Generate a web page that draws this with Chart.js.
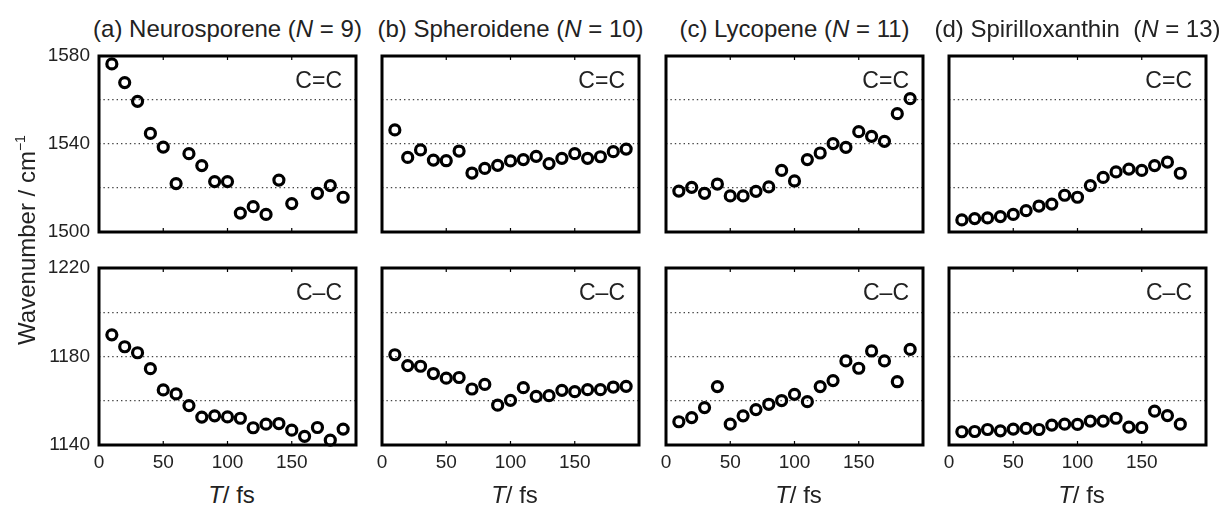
<!DOCTYPE html>
<html>
  <head>
    <title>Wavenumber vs T for four carotenoids</title>
    <script src="https://cdn.jsdelivr.net/npm/chart.js"></script>
    <style>
      body {
        margin: 0;
        background: #fff;
        font-family: "Liberation Sans", Arial, sans-serif;
        color: #222;
      }
      #wrap {
        position: relative;
        width: 1231px;
        height: 507px;
        overflow: hidden;
      }
      canvas {
        position: absolute;
      }
      .lbl {
        position: absolute;
        white-space: pre;
        z-index: 2;
      }
      .lbl sup {
        font-size: 14px;
        vertical-align: baseline;
        position: relative;
        top: -10px;
      }
    </style>
  </head>
  <body>
    <div id="wrap"></div>
    <script>
      // T / fs, one sample every 10 fs
      const times = [10, 20, 30, 40, 50, 60, 70, 80, 90, 100, 110, 120, 130, 140, 150, 160, 170, 180, 190];

      const molecules = ["(a) Neurosporene", "(b) Spheroidene", "(c) Lycopene", "(d) Spirilloxanthin "];
      const chainN = [9, 10, 11, 13];
      const modes = ["C=C", "C\u2013C"];
      const yRanges = [[1500, 1580], [1140, 1220]];
      const xTicks = [0, 50, 100, 150];

      // C=C stretching
      const neurosporeneCC = [1576.4, 1567.9, 1559.4, 1544.8, 1538.6, 1522.0, 1535.6, 1530.2, 1522.9, 1522.9,
        1508.6, 1511.5, 1508.0, 1523.6, 1512.9, null, 1517.6, 1521.1, 1515.8];
      const spheroideneCC = [1546.4, 1533.9, 1537.3, 1532.7, 1532.4, 1536.8, 1526.8, 1528.9, 1530.3, 1532.3,
        1532.9, 1534.4, 1531.1, 1533.5, 1535.6, 1533.5, 1534.2, 1536.5, 1537.7];
      const lycopeneCC = [1518.6, 1520.3, 1517.6, 1521.8, 1516.4, 1516.4, 1518.5, 1520.5, 1528.0, 1523.2,
        1532.9, 1535.9, 1540.2, 1538.5, 1545.6, 1543.5, 1541.2, 1553.8, 1560.6];
      const spirilloxanthinCC = [1505.5, 1506.1, 1506.4, 1507.0, 1508.0, 1509.7, 1511.8, 1512.7, 1516.7, 1515.8,
        1521.1, 1524.8, 1527.3, 1528.6, 1528.0, 1530.2, 1531.8, 1526.7];

      // C-C stretching
      const neurosporeneC1 = [1189.8, 1184.4, 1181.7, 1174.5, 1164.9, 1163.1, 1157.8, 1152.6, 1153.2, 1152.7,
        1152.1, 1147.8, 1149.4, 1149.7, 1146.7, 1143.9, 1147.9, 1142.2, 1147.2];
      const spheroideneC1 = [1180.8, 1175.9, 1175.6, 1172.3, 1170.2, 1170.5, 1165.3, 1167.4, 1158.0, 1160.2,
        1165.9, 1162.0, 1162.3, 1164.7, 1164.1, 1165.0, 1165.0, 1166.2, 1166.5];
      const lycopeneC1 = [1150.5, 1152.4, 1156.9, 1166.4, 1149.4, 1153.2, 1156.0, 1158.4, 1160.1, 1162.9,
        1159.6, 1166.4, 1169.1, 1178.0, 1174.7, 1182.5, 1178.0, 1168.6, 1183.2];
      const spirilloxanthinC1 = [1146.0, 1146.1, 1147.0, 1146.4, 1147.2, 1147.5, 1147.0, 1149.0, 1149.4, 1149.3,
        1150.8, 1150.8, 1152.1, 1148.1, 1147.9, 1155.3, 1153.3, 1149.4];

      const series = [
        [neurosporeneCC, spheroideneCC, lycopeneCC, spirilloxanthinCC],
        [neurosporeneC1, spheroideneC1, lycopeneC1, spirilloxanthinC1],
      ];

      // panel frames (px)
      const colLeft = [99, 382, 666, 949];
      const panelW = 257;
      const rowTop = [56, 268];
      const rowH = [176, 177];

      const FONT = '"Liberation Sans", Arial, sans-serif';
      const wrap = document.getElementById("wrap");

      function addLabel(html, css) {
        const d = document.createElement("div");
        d.className = "lbl";
        d.innerHTML = html;
        Object.assign(d.style, css);
        wrap.appendChild(d);
        return d;
      }

      // thick box + inward ticks on top/bottom edges
      const framePlugin = {
        id: "frame",
        beforeDatasetsDraw(chart) {
          const { ctx, chartArea: a, scales } = chart;
          const x = scales.x;
          ctx.save();
          ctx.strokeStyle = "#000";
          ctx.lineWidth = 1.2;
          x.ticks.forEach(t => {
            if (t.value <= x.min || t.value >= x.max) return;
            const px = x.getPixelForValue(t.value);
            ctx.beginPath();
            ctx.moveTo(px, a.top);
            ctx.lineTo(px, a.top + 4);
            ctx.moveTo(px, a.bottom);
            ctx.lineTo(px, a.bottom - 4);
            ctx.stroke();
          });
          ctx.lineWidth = 3;
          ctx.strokeRect(a.left, a.top, a.width, a.height);
          ctx.restore();
        },
      };

      for (let r = 0; r < 2; r++) {
        for (let c = 0; c < 4; c++) {
          const yW = c === 0 ? 75 : 14;
          const padTop = 14;
          const padRight = 14;
          const xH = r === 1 ? 34 : 14;
          const [yMin, yMax] = yRanges[r];

          const cv = document.createElement("canvas");
          cv.width = yW + panelW + padRight;
          cv.height = padTop + rowH[r] + xH;
          cv.style.left = colLeft[c] - yW + "px";
          cv.style.top = rowTop[r] - padTop + "px";
          wrap.appendChild(cv);

          const pts = series[r][c].map((v, i) => ({ x: times[i], y: v }));

          new Chart(cv.getContext("2d"), {
            type: "scatter",
            data: {
              datasets: [
                {
                  data: pts,
                  pointStyle: "circle",
                  pointRadius: 5,
                  pointBorderWidth: 3.2,
                  pointBorderColor: "#000",
                  pointBackgroundColor: "rgba(0,0,0,0)",
                  clip: false,
                },
              ],
            },
            options: {
              responsive: false,
              animation: false,
              devicePixelRatio: 1,
              layout: { padding: { top: padTop, right: padRight, left: 0, bottom: 0 } },
              plugins: { legend: { display: false }, tooltip: { enabled: false } },
              scales: {
                x: {
                  type: "linear",
                  min: 0,
                  max: 200,
                  grid: { display: false, drawTicks: false },
                  border: { display: false },
                  afterBuildTicks: s => {
                    s.ticks = xTicks.map(v => ({ value: v }));
                  },
                  ticks: {
                    display: r === 1,
                    padding: 6,
                    maxRotation: 0,
                    autoSkip: false,
                    color: "#222",
                    font: { family: FONT, size: 19 },
                  },
                  afterFit: s => {
                    s.height = xH;
                    s.paddingLeft = 0;
                    s.paddingRight = 0;
                  },
                },
                y: {
                  min: yMin,
                  max: yMax,
                  grid: {
                    drawTicks: false,
                    lineWidth: 1.3,
                    color: ctx =>
                      ctx.tick && ctx.tick.value > yMin && ctx.tick.value < yMax ? "#444" : "rgba(0,0,0,0)",
                  },
                  border: { display: false, dash: [1.4, 3] },
                  ticks: {
                    display: c === 0,
                    stepSize: 20,
                    padding: 9,
                    color: "#222",
                    font: { family: FONT, size: 19 },
                    callback: v => ((v - yMin) % 40 === 0 ? v : ""),
                  },
                  afterFit: s => {
                    s.width = yW;
                    s.paddingTop = 0;
                    s.paddingBottom = 0;
                  },
                },
              },
            },
            plugins: [framePlugin],
          });

          // band label in the upper right corner
          addLabel(modes[r], {
            left: colLeft[c] + "px",
            width: panelW - 14 + "px",
            textAlign: "right",
            top: rowTop[r] + 13 + "px",
            fontSize: "23px",
            lineHeight: "23px",
          });

          if (r === 0) {
            addLabel(`${molecules[c]} (<i>N</i> = ${chainN[c]})`, {
              left: colLeft[c] - 40 + "px",
              width: panelW + 80 + "px",
              textAlign: "center",
              top: "17px",
              fontSize: "24px",
              lineHeight: "24px",
            });
          } else {
            addLabel("<i>T</i>/ fs", {
              left: colLeft[c] + panelW / 2 + 4 - 50 + "px",
              width: "100px",
              textAlign: "center",
              top: "483px",
              fontSize: "24px",
              lineHeight: "24px",
            });
          }
        }
      }

      addLabel("Wavenumber / cm<sup>\u22121</sup>", {
        left: 26.7 - 130 + "px",
        top: "225px",
        width: "260px",
        height: "30px",
        lineHeight: "30px",
        textAlign: "center",
        fontSize: "24px",
        transform: "rotate(-90deg)",
      });
    </script>
  </body>
</html>
